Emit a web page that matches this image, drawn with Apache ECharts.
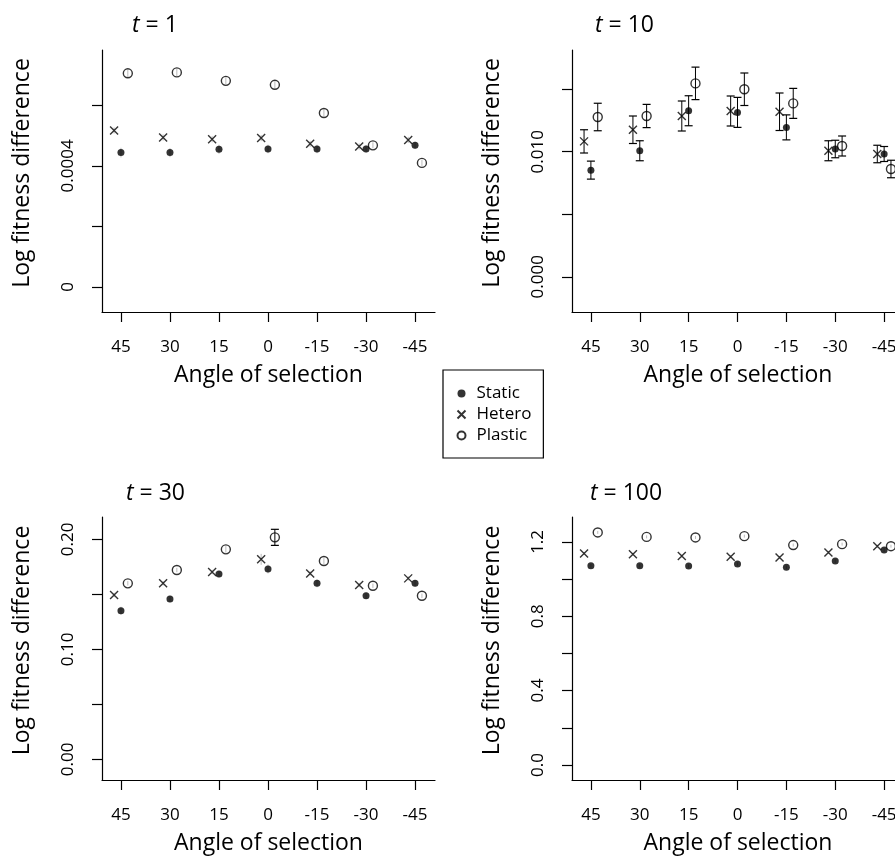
<!DOCTYPE html>
<html>
<head>
<meta charset="utf-8">
<script src="https://cdn.jsdelivr.net/npm/echarts@6/dist/echarts.min.js"></script>
<style>
  html, body { margin: 0; padding: 0; background: #fff; }
  #chart { width: 895px; height: 860px; }
</style>
</head>
<body>
<div id="chart"></div>
<script>
// angles of selection (x axis) and series names
const angles = [45, 30, 15, 0, -15, -30, -45];
const seriesNames = ['Static', 'Hetero', 'Plastic'];
const dodge = 2.1; // hetero drawn left of the angle, plastic right

// t = 1
const static1 = [0.000444, 0.000444, 0.000455, 0.000456, 0.000456, 0.000456, 0.000468];
const hetero1 = [0.000517, 0.000494, 0.000488, 0.000492, 0.000473, 0.000464, 0.000486];
const plastic1 = [0.000706, 0.000709, 0.000681, 0.000668, 0.000575, 0.000468, 0.000410];
const static1Err = [0.000016, 0.000015, 0.000015, 0.000014, 0.000014, 0.000012, 0.000012];
const hetero1Err = [0.00001, 0.00001, 0.00001, 0.00001, 0.00001, 0.00001, 0.00001];
const plastic1Err = [0.000012, 0.000012, 0.000012, 0.000012, 0.000012, 0.00001, 0.00001];
const ticks1 = [0, 0.0002, 0.0004, 0.0006];
const labelVals1 = [0, 0.0004];
const labelText1 = ['0', '0.0004'];

// t = 10
const static10 = [0.00853, 0.01008, 0.01328, 0.01315, 0.01195, 0.01022, 0.00982];
const hetero10 = [0.01083, 0.01176, 0.01286, 0.01326, 0.01320, 0.01008, 0.00982];
const plastic10 = [0.01278, 0.01286, 0.01547, 0.01500, 0.01387, 0.01046, 0.00862];
const static10Err = [0.00072, 0.0008, 0.0012, 0.0012, 0.001, 0.0007, 0.0006];
const hetero10Err = [0.00093, 0.0011, 0.0012, 0.0012, 0.0015, 0.0008, 0.0007];
const plastic10Err = [0.0011, 0.00093, 0.0013, 0.0013, 0.0012, 0.0008, 0.0007];
const ticks10 = [0, 0.005, 0.010, 0.015];
const labelVals10 = [0, 0.010];
const labelText10 = ['0.000', '0.010'];

// t = 30
const static30 = [0.1351, 0.1457, 0.1684, 0.1730, 0.1600, 0.1487, 0.1600];
const hetero30 = [0.1494, 0.1600, 0.1703, 0.1818, 0.1690, 0.1584, 0.1645];
const plastic30 = [0.1600, 0.1721, 0.1909, 0.2018, 0.1803, 0.1578, 0.1487];
const static30Err = [0.0036, 0.003, 0.003, 0.004, 0.0036, 0.003, 0.003];
const hetero30Err = [0.002, 0.002, 0.002, 0.005, 0.002, 0.002, 0.002];
const plastic30Err = [0.002, 0.002, 0.003, 0.0073, 0.003, 0.002, 0.002];
const ticks30 = [0, 0.05, 0.10, 0.15, 0.20];
const labelVals30 = [0, 0.10, 0.20];
const labelText30 = ['0.00', '0.10', '0.20'];

// t = 100
const static100 = [1.0715, 1.0715, 1.070, 1.0806, 1.063, 1.0967, 1.156];
const hetero100 = [1.138, 1.133, 1.1236, 1.120, 1.1166, 1.1435, 1.177];
const plastic100 = [1.251, 1.227, 1.224, 1.231, 1.183, 1.188, 1.177];
const static100Err = [0.01, 0.01, 0.01, 0.01, 0.01, 0.01, 0.01];
const hetero100Err = [0.008, 0.008, 0.008, 0.008, 0.008, 0.008, 0.008];
const plastic100Err = [0.008, 0.008, 0.008, 0.008, 0.008, 0.008, 0.008];
const ticks100 = [0, 0.2, 0.4, 0.6, 0.8, 1.0, 1.2];
const labelVals100 = [0, 0.4, 0.8, 1.2];
const labelText100 = ['0.0', '0.4', '0.8', '1.2'];

const panels = [
  { t: '1', vals: [static1, hetero1, plastic1], errs: [static1Err, hetero1Err, plastic1Err],
    ticks: ticks1, labelVals: labelVals1, labelText: labelText1, yMin: -0.0000826, yMax: 0.000783,
    grid: { left: 102, top: 50, width: 333, height: 262 }, titlePos: [127, 9] },
  { t: '10', vals: [static10, hetero10, plastic10], errs: [static10Err, hetero10Err, plastic10Err],
    ticks: ticks10, labelVals: labelVals10, labelText: labelText10, yMin: -0.00282, yMax: 0.01814,
    grid: { left: 572, top: 50, width: 332, height: 262 }, titlePos: [590, 9] },
  { t: '30', vals: [static30, hetero30, plastic30], errs: [static30Err, hetero30Err, plastic30Err],
    ticks: ticks30, labelVals: labelVals30, labelText: labelText30, yMin: -0.0188, yMax: 0.2203,
    grid: { left: 102, top: 517, width: 333, height: 263 }, titlePos: [121, 477] },
  { t: '100', vals: [static100, hetero100, plastic100], errs: [static100Err, hetero100Err, plastic100Err],
    ticks: ticks100, labelVals: labelVals100, labelText: labelText100, yMin: -0.081, yMax: 1.334,
    grid: { left: 572, top: 517, width: 332, height: 263 }, titlePos: [585, 477] }
];

const offsets = [0, dodge, -dodge];
const symbols = ['circle', 'path://M0 0L10 10M10 0L0 10', 'circle'];
const symbolSizes = [7, 8, 9];
const itemStyles = [
  { color: '#000', borderWidth: 0 },
  { color: 'none', borderColor: '#000', borderWidth: 1.4 },
  { color: 'rgba(0,0,0,0)', borderColor: '#000', borderWidth: 1.4 }
];

const fontFamily = 'Open Sans';

function renderErr(params, api) {
  const x = api.value(0);
  const lo = api.coord([x, api.value(1)]);
  const hi = api.coord([x, api.value(2)]);
  const big = lo[1] - hi[1] > 13;
  const stroke = big ? '#000' : '#bbb';
  const children = [{
    type: 'line',
    shape: { x1: lo[0], y1: lo[1], x2: hi[0], y2: hi[1] },
    style: { stroke: stroke, lineWidth: 1 }
  }];
  if (big) {
    [lo, hi].forEach(function (p) {
      children.push({
        type: 'line',
        shape: { x1: p[0] - 4, y1: p[1], x2: p[0] + 4, y2: p[1] },
        style: { stroke: '#000', lineWidth: 1.2 }
      });
    });
  }
  return { type: 'group', children: children };
}

const grid = [], xAxis = [], yAxis = [], series = [], title = [];

panels.forEach(function (p, i) {
  grid.push(Object.assign({ outerBoundsMode: 'none', containLabel: false }, p.grid));
  title.push({
    text: '{i|t} = ' + p.t,
    left: p.titlePos[0], top: p.titlePos[1],
    textStyle: {
      fontFamily: fontFamily, fontSize: 23, fontWeight: 'normal', color: '#000',
      rich: { i: { fontFamily: fontFamily, fontSize: 23, fontStyle: 'italic', color: '#000' } }
    }
  });
  xAxis.push({
    gridIndex: i, type: 'value', inverse: true, min: -51.1, max: 50.8,
    axisLine: { show: true, onZero: false, lineStyle: { color: '#000', width: 1.2 } },
    axisTick: { show: true, length: 10, customValues: angles, lineStyle: { color: '#000', width: 1.2 } },
    axisLabel: { customValues: angles, margin: 27, fontSize: 17, fontFamily: fontFamily, color: '#000' },
    splitLine: { show: false },
    name: 'Angle of selection', nameLocation: 'middle', nameGap: 52,
    nameTextStyle: { fontSize: 23, fontFamily: fontFamily, color: '#000' }
  });
  yAxis.push({
    gridIndex: i, type: 'value', min: p.yMin, max: p.yMax,
    axisLine: { show: true, onZero: false, lineStyle: { color: '#000', width: 1.2 } },
    axisTick: { show: true, length: 10, customValues: p.ticks, lineStyle: { color: '#000', width: 1.2 } },
    axisLabel: {
      customValues: p.labelVals, rotate: 90, margin: 25, fontSize: 17, fontFamily: fontFamily, color: '#000',
      formatter: function (v) {
        const k = p.labelVals.findIndex(function (lv) { return Math.abs(lv - v) < 1e-9; });
        return k >= 0 ? p.labelText[k] : '';
      }
    },
    splitLine: { show: false },
    name: 'Log fitness difference', nameLocation: 'middle', nameGap: 68,
    nameTextStyle: { fontSize: 23, fontFamily: fontFamily, color: '#000', padding: [0, 0, 0, 16] }
  });

  seriesNames.forEach(function (name, s) {
    series.push({
      type: 'custom', name: name + ' err', xAxisIndex: i, yAxisIndex: i,
      renderItem: renderErr, silent: true, z: 1,
      data: angles.map(function (a, k) {
        return [a + offsets[s], p.vals[s][k] - p.errs[s][k], p.vals[s][k] + p.errs[s][k]];
      })
    });
  });
  seriesNames.forEach(function (name, s) {
    series.push({
      type: 'scatter', name: name, xAxisIndex: i, yAxisIndex: i, z: 3,
      symbol: symbols[s], symbolSize: symbolSizes[s], itemStyle: itemStyles[s],
      data: angles.map(function (a, k) { return [a + offsets[s], p.vals[s][k]]; })
    });
  });
});

const chart = echarts.init(document.getElementById('chart'));
chart.setOption({
  animation: false,
  backgroundColor: '#fff',
  title: title,
  legend: {
    data: seriesNames, orient: 'vertical', left: 443, top: 370,
    itemWidth: 10, itemHeight: 8, itemGap: 4,
    padding: [15, 12, 14, 12],
    borderColor: '#000', borderWidth: 1.2,
    textStyle: { fontSize: 17, fontFamily: fontFamily, color: '#000', padding: [0, 0, 0, 5] }
  },
  grid: grid,
  xAxis: xAxis,
  yAxis: yAxis,
  series: series
});
</script>
</body>
</html>
